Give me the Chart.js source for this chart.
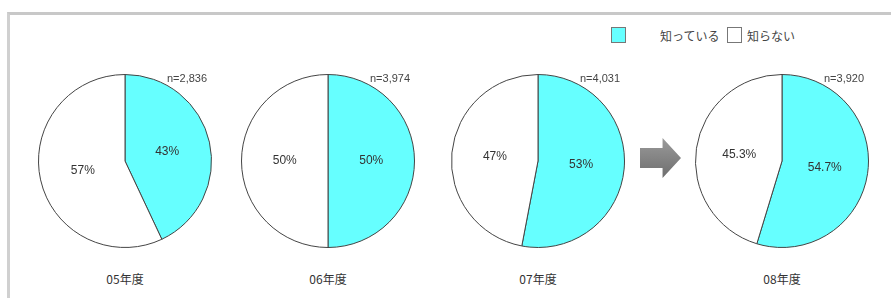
<!DOCTYPE html>
<html lang="ja">
<head>
<meta charset="utf-8">
<title>認知度</title>
<script src="https://cdn.jsdelivr.net/npm/chart.js@4"></script>
<style>
  html, body { margin: 0; padding: 0; background: #fff; }
  body { width: 891px; height: 298px; position: relative; overflow: hidden;
         font-family: "Liberation Sans", "Noto Sans CJK JP", sans-serif; color: #333; }
  .frame { position: absolute; left: 7px; top: 12px; width: 900px; height: 300px;
           border-top: 3px solid #c8c8c8; border-left: 3px solid #d0d0d0; }
  .pie { position: absolute; width: 180px; height: 180px; }
  .txt { position: absolute; font-size: 12px; white-space: nowrap; transform: translateX(-50%); }
  .n { position: absolute; font-size: 11px; white-space: nowrap; color: #444; }
  .legend { position: absolute; top: 27px; font-size: 12px; font-family: "Noto Sans CJK JP", sans-serif; color: #444; }
  .box { position: absolute; width: 13px; height: 14px; border: 1px solid #777; }
  .arrow { position: absolute; left: 640px; top: 138px; width: 41px; height: 40px;
           background: linear-gradient(#9a9a9a, #6e6e6e);
           clip-path: polygon(0 25%, 55% 25%, 55% 0, 100% 50%, 55% 100%, 55% 75%, 0 75%); }
</style>
</head>
<body>
<div class="frame"></div>

<div class="box" style="left:611px; top:27px; background:#66ffff;"></div>
<div class="legend" style="left:660px;">知っている</div>
<div class="box" style="left:727px; top:27px; background:#fff;"></div>
<div class="legend" style="left:747px;">知らない</div>

<div class="arrow"></div>

<script>
const years = ["05年度", "06年度", "07年度", "08年度"];
const sampleSizes = ["n=2,836", "n=3,974", "n=4,031", "n=3,920"];
const knowValues = [43, 50, 53, 54.7];
const notKnowValues = [57, 50, 47, 45.3];
const knowLabels = ["43%", "50%", "53%", "54.7%"];
const notKnowLabels = ["57%", "50%", "47%", "45.3%"];
const seriesNames = ["知っている", "知らない"];

// layout of the four pies
const centersX = [125, 328, 538, 782];
const centerY = 161;

const sliceLabels = {
  id: "sliceLabels",
  afterDatasetsDraw(chart, args, opts) {
    const ctx = chart.ctx;
    const meta = chart.getDatasetMeta(0);
    ctx.save();
    ctx.font = "12px 'Liberation Sans', sans-serif";
    ctx.fillStyle = "#333";
    ctx.textAlign = "center";
    ctx.textBaseline = "middle";
    meta.data.forEach((arc, i) => {
      const mid = (arc.startAngle + arc.endAngle) / 2;
      const r = arc.outerRadius * 0.5;
      ctx.fillText(opts.labels[i], arc.x + Math.cos(mid) * r, arc.y + Math.sin(mid) * r);
    });
    ctx.restore();
  }
};

years.forEach((year, i) => {
  const cv = document.createElement("canvas");
  cv.className = "pie";
  cv.style.left = (centersX[i] - 90) + "px";
  cv.style.top = (centerY - 90) + "px";
  cv.width = 180;
  cv.height = 180;
  document.body.appendChild(cv);

  new Chart(cv, {
    type: "pie",
    data: {
      labels: seriesNames,
      datasets: [{
        data: [knowValues[i], notKnowValues[i]],
        backgroundColor: ["#66ffff", "#ffffff"],
        borderColor: "#444",
        borderWidth: 1
      }]
    },
    options: {
      responsive: false,
      animation: false,
      layout: { padding: 3 },
      plugins: {
        legend: { display: false },
        tooltip: { enabled: false },
        sliceLabels: { labels: [knowLabels[i], notKnowLabels[i]] }
      }
    },
    plugins: [sliceLabels]
  });

  const y = document.createElement("div");
  y.className = "txt";
  y.style.left = centersX[i] + "px";
  y.style.top = "270px";
  y.style.fontFamily = "'Noto Sans CJK JP', sans-serif";
  y.textContent = year;
  document.body.appendChild(y);

  const n = document.createElement("div");
  n.className = "n";
  n.style.left = (centersX[i] + 42) + "px";
  n.style.top = "72px";
  n.textContent = sampleSizes[i];
  document.body.appendChild(n);
});
</script>
</body>
</html>
